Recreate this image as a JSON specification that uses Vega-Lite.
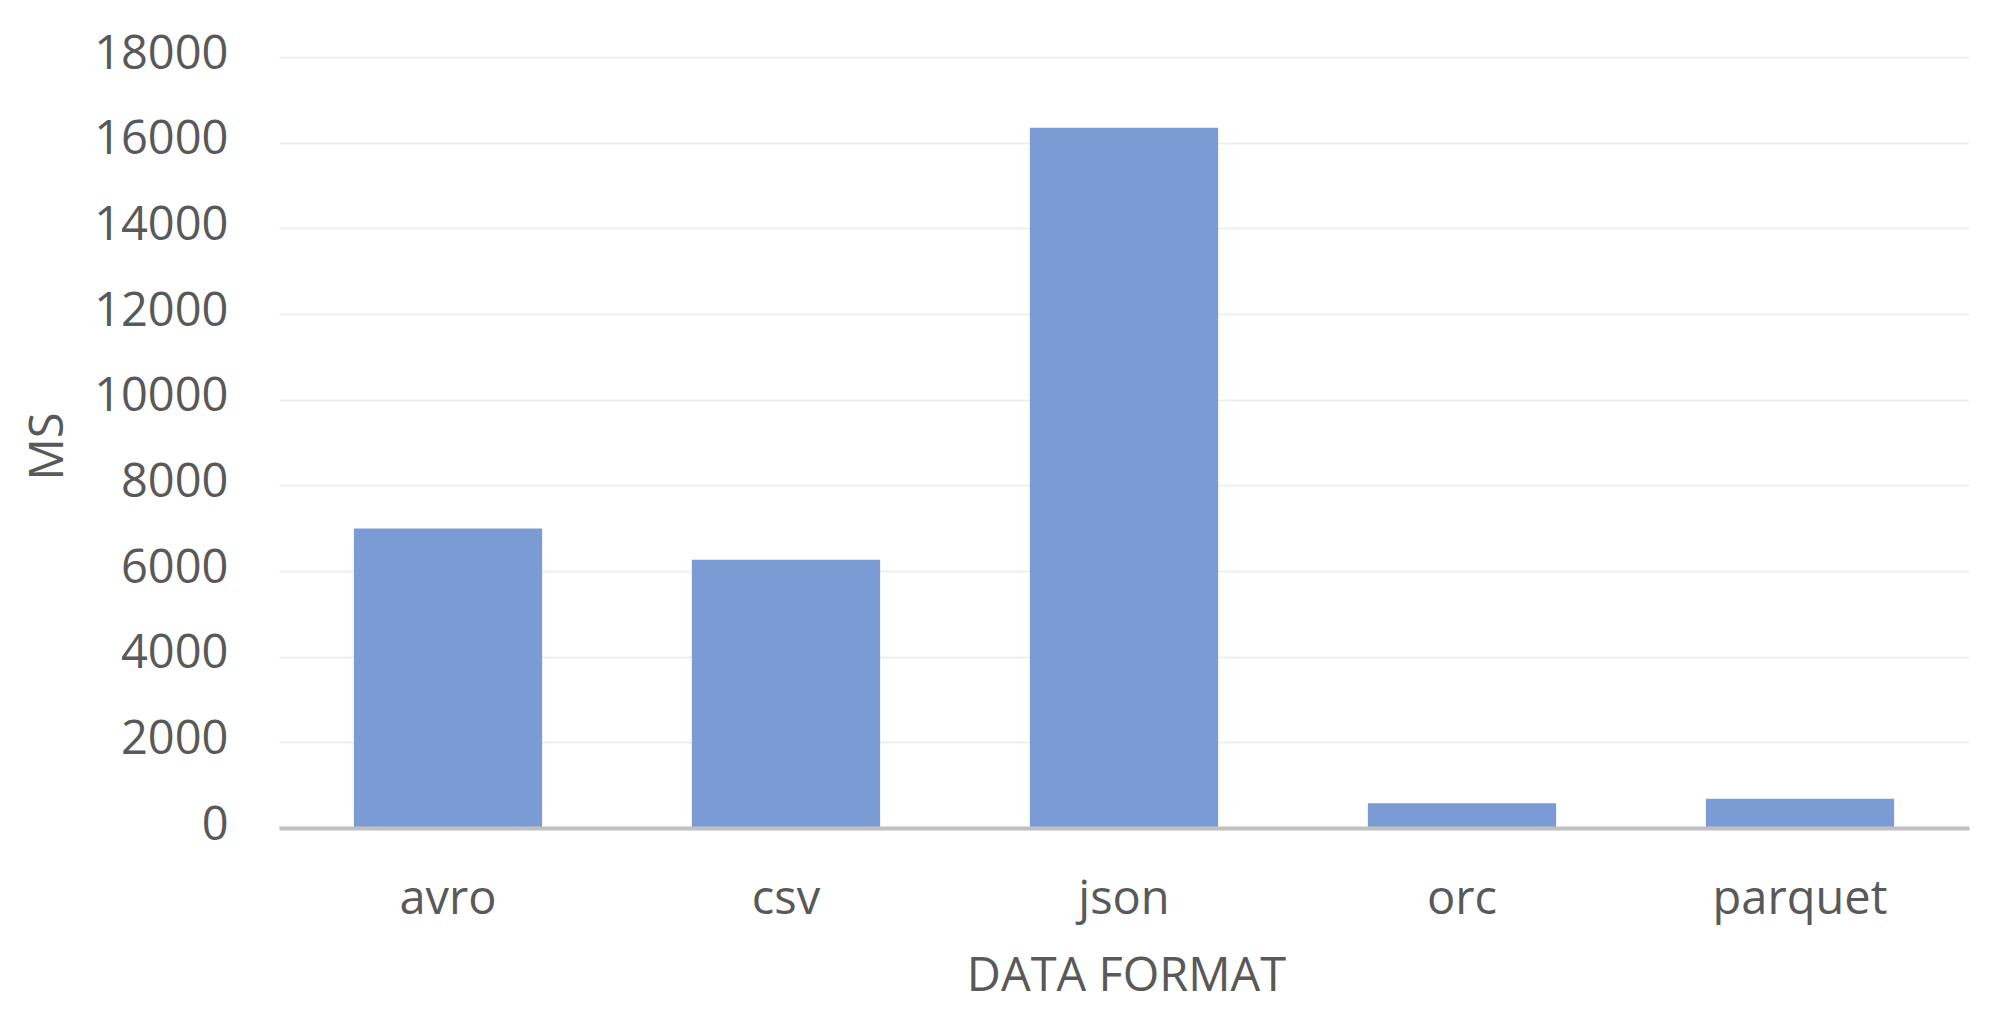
{
  "$schema": "https://vega.github.io/schema/vega-lite/v6.json",
  "autosize": "none",
  "width": 1690,
  "height": 771,
  "padding": {"left": 279, "top": 57, "right": 33, "bottom": 207},
  "background": "white",
  "config": {
    "view": {"stroke": null},
    "font": "Open Sans"
  },
  "data": {
    "values": [
      {"format": "avro", "ms": 6990},
      {"format": "csv", "ms": 6260},
      {"format": "json", "ms": 16350},
      {"format": "orc", "ms": 580},
      {"format": "parquet", "ms": 680}
    ]
  },
  "mark": {"type": "bar", "color": "#7a9bd4"},
  "encoding": {
    "x": {
      "field": "format",
      "type": "nominal",
      "sort": null,
      "scale": {"paddingInner": 0.443, "paddingOuter": 0.2215},
      "axis": {
        "title": "DATA FORMAT",
        "labelAngle": 0,
        "labelFont": "Open Sans",
        "labelFontSize": 47,
        "labelColor": "#595959",
        "labelBaseline": "alphabetic",
        "labelPadding": 85,
        "ticks": false,
        "domain": true,
        "domainColor": "#c0c0c0",
        "domainWidth": 4,
        "zindex": 1,
        "titleFont": "Open Sans",
        "titleFontSize": 47,
        "titleFontWeight": "normal",
        "titleColor": "#595959",
        "titleBaseline": "alphabetic",
        "titleY": 162,
        "titleX": 847
      }
    },
    "y": {
      "field": "ms",
      "type": "quantitative",
      "scale": {"domain": [0, 18000], "nice": false},
      "axis": {
        "title": "MS",
        "values": [0, 2000, 4000, 6000, 8000, 10000, 12000, 14000, 16000, 18000],
        "format": "d",
        "labelFont": "Open Sans",
        "labelFontSize": 47,
        "labelColor": "#595959",
        "labelPadding": 51,
        "labelOffset": -3,
        "ticks": false,
        "domain": false,
        "grid": true,
        "gridColor": "#efefef",
        "gridWidth": 2,
        "titleFont": "Open Sans",
        "titleFontSize": 47,
        "titleFontWeight": "normal",
        "titleColor": "#595959",
        "titleAngle": -90,
        "titleBaseline": "alphabetic",
        "titleAlign": "center",
        "titleX": -217,
        "titleY": 389
      }
    }
  }
}
